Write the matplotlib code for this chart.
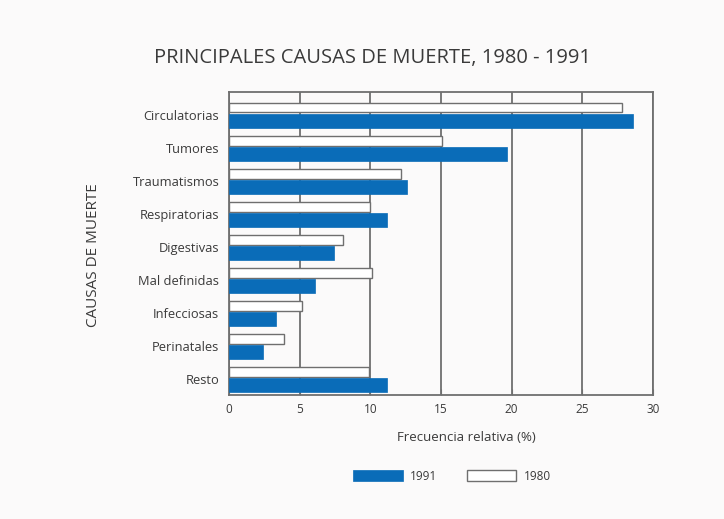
import matplotlib.pyplot as plt
import numpy as np

plt.rcParams["font.family"] = ["Open Sans", "DejaVu Sans"]

causas = ["Circulatorias", "Tumores", "Traumatismos", "Respiratorias", "Digestivas",
          "Mal definidas", "Infecciosas", "Perinatales", "Resto"]
v1980 = [27.8, 15.1, 12.2, 10.0, 8.1, 10.1, 5.2, 3.9, 9.9]
v1991 = [28.6, 19.7, 12.6, 11.2, 7.4, 6.1, 3.3, 2.4, 11.2]

azul = "#0a6cb8"
gris = "#6f6f6f"
texto = "#3a3a3a"
fondo = "#fbfafa"

fig = plt.figure(figsize=(7.24, 5.19), dpi=100, facecolor=fondo)
ax = fig.add_axes([229 / 724, 1 - 395 / 519, 424 / 724, 303 / 519], facecolor=fondo)

y = np.arange(len(causas))
ax.barh(y - 0.23, v1980, height=0.3, color="white", edgecolor=gris, linewidth=1.0,
        label="1980", zorder=3)
ax.barh(y + 0.18, v1991, height=0.42, color=azul, edgecolor=azul, linewidth=0.5,
        label="1991", zorder=3)

ax.set_xlim(0, 30)
ax.set_ylim(8.47, -0.7)
ax.set_xticks(range(0, 31, 5))
ax.set_yticks(y)
ax.set_yticklabels(causas, fontsize=9.3, color=texto)
ax.tick_params(axis="x", labelsize=8.5, labelcolor=texto, direction="in",
               length=4, color=gris, pad=6)
ax.tick_params(axis="y", length=0, pad=7)
ax.grid(axis="x", color=gris, linewidth=1.3, zorder=1)
for s in ax.spines.values():
    s.set_color(gris)
    s.set_linewidth(1.3)

ax.set_xlabel("Frecuencia relativa (%)", fontsize=9.5, color=texto)
ax.xaxis.set_label_coords((466 - 229) / 424, -(431 - 395) / 303)
ax.set_ylabel("CAUSAS DE MUERTE", fontsize=11, color=texto)
ax.yaxis.set_label_coords(-(229 - 101) / 424, (395 - 255) / 303)
fig.text(373 / 724, 1 - 58 / 519, "PRINCIPALES CAUSAS DE MUERTE, 1980 - 1991",
         ha="center", va="center", fontsize=14.5, color=texto)

h, l = ax.get_legend_handles_labels()
fig.legend(h[::-1], l[::-1], loc="center", bbox_to_anchor=(452 / 724, 1 - 476 / 519),
           ncol=2, frameon=False, fontsize=8.5, handlelength=4.2, handleheight=1.1,
           handletextpad=0.6, columnspacing=2.5, labelcolor=texto)

fig.savefig("out.png", dpi=100, facecolor=fondo)
